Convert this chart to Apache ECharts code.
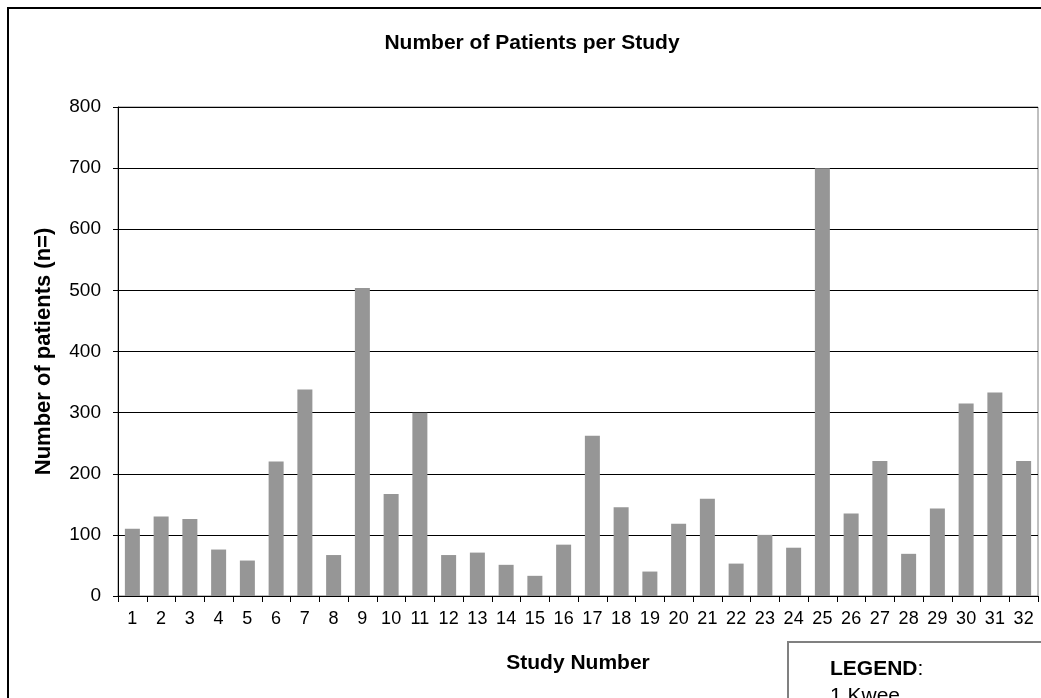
<!DOCTYPE html>
<html>
<head>
<meta charset="utf-8">
<script src="https://cdn.jsdelivr.net/npm/echarts@6/dist/echarts.min.js"></script>
<style>
html,body{margin:0;padding:0;background:#fff;}
#chart{width:1041px;height:698px;}
</style>
</head>
<body>
<div id="chart"></div>
<script>
const studies = ['1','2','3','4','5','6','7','8','9','10','11','12','13','14','15','16','17','18','19','20','21','22','23','24','25','26','27','28','29','30','31','32'];
const patients = [110,130,126,76,58,220,338,67,504,167,300,67,71,51,33,84,262,145,40,118,159,53,100,79,700,135,221,69,143,315,333,221];
const yTicks = [0,100,200,300,400,500,600,700,800];

const chart = echarts.init(document.getElementById('chart'), null, {renderer:'canvas'});
const font = 'Arial, "Liberation Sans", sans-serif';
chart.setOption({
  animation:false,
  backgroundColor:'#fff',
  grid:{left:118,right:3,top:107,bottom:102,show:true,borderColor:'#808080',borderWidth:1},
  xAxis:{
    type:'category',
    data:studies,
    boundaryGap:true,
    name:'Study Number',
    nameLocation:'middle',
    nameGap:57,
    nameTextStyle:{fontFamily:font,fontSize:21,fontWeight:'bold',color:'#000'},
    axisLine:{lineStyle:{color:'#000',width:1}},
    axisTick:{show:true,alignWithLabel:false,length:6,lineStyle:{color:'#000'}},
    axisLabel:{fontFamily:font,fontSize:18,color:'#000',margin:14,interval:0}
  },
  yAxis:{
    type:'value',
    min:yTicks[0], max:yTicks[yTicks.length-1], interval:100,
    name:'Number of patients (n=)',
    nameLocation:'middle',
    nameGap:63,
    nameTextStyle:{fontFamily:font,fontSize:22,fontWeight:'bold',color:'#000'},
    axisLine:{show:true,lineStyle:{color:'#000',width:1}},
    axisTick:{show:true,length:5,lineStyle:{color:'#000'}},
    axisLabel:{fontFamily:font,fontSize:19,color:'#000',margin:17},
    splitLine:{show:true,lineStyle:{color:'#000',width:1}}
  },
  series:[{
    type:'bar',
    data:patients,
    barWidth:15,
    itemStyle:{color:'#969696'}
  }],
  graphic:[
    {type:'text',x:532,y:43,style:{text:'Number of Patients per Study',fontFamily:font,fontSize:21,fontWeight:'bold',fill:'#000',textAlign:'center',textVerticalAlign:'middle'},z:102},
    {type:'rect',shape:{x:8,y:8,width:1060,height:720},style:{fill:null,stroke:'#000',lineWidth:2},silent:true,z:100},
    {type:'rect',shape:{x:788,y:642,width:300,height:120},style:{fill:'#fff',stroke:'#808080',lineWidth:2},z:101},
    {type:'text',x:830,y:659,style:{text:'{b|LEGEND}{n|:}',rich:{b:{fontFamily:font,fontSize:21,fontWeight:'bold',fill:'#000'},n:{fontFamily:font,fontSize:21,fill:'#000'}}},z:102},
    {type:'text',x:830,y:686,style:{text:'1 Kwee',fontFamily:font,fontSize:21,fill:'#000'},z:102}
  ]
});
</script>
</body>
</html>
